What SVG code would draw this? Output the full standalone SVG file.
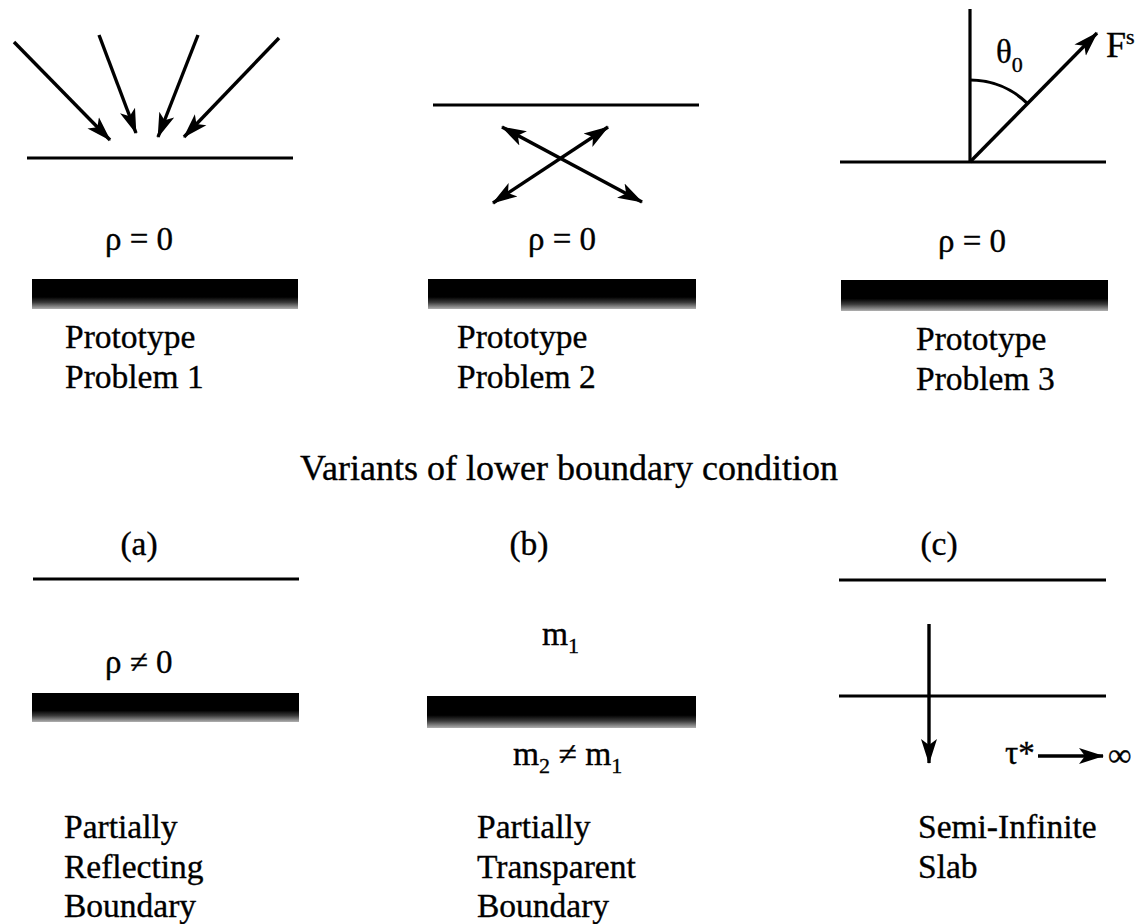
<svg xmlns="http://www.w3.org/2000/svg" width="1142" height="924" viewBox="0 0 1142 924">
<style>
  .t { font-family: "Liberation Serif", "Times New Roman", serif; font-size: 33.5px; fill: #000; stroke: #000; stroke-width: 0.35; }
  .big { font-size: 36px; }
  .sym { font-family: "Liberation Serif", "Times New Roman", serif; font-size: 33px; fill: #000; stroke: #000; stroke-width: 0.35; }
  .sub { font-size: 22px; }
  .ln { stroke: #000; stroke-width: 3.2; fill: none; }
  .ar { stroke: #000; stroke-width: 3.4; fill: none; marker-end: url(#ah); }
  .ar2 { stroke: #000; stroke-width: 3.4; fill: none; marker-end: url(#ah); marker-start: url(#ahs); }
  .bar { fill: url(#barg); }
</style>
<defs>
  <marker id="ah" markerUnits="userSpaceOnUse" markerWidth="26" markerHeight="18" refX="24" refY="9" orient="auto">
    <path d="M0,1 L25,9 L0,17 L6,9 Z" fill="#000"/>
  </marker>
  <marker id="ahs" markerUnits="userSpaceOnUse" markerWidth="26" markerHeight="18" refX="24" refY="9" orient="auto-start-reverse">
    <path d="M0,1 L25,9 L0,17 L6,9 Z" fill="#000"/>
  </marker>
  <linearGradient id="barg" x1="0" y1="0" x2="0" y2="1">
    <stop offset="0" stop-color="#000"/>
    <stop offset="0.6" stop-color="#000"/>
    <stop offset="0.78" stop-color="#3a3a3a"/>
    <stop offset="1" stop-color="#b0b0b0"/>
  </linearGradient>
</defs>

<!-- Prototype Problem 1 -->
<g id="p1">
  <line class="ln" x1="27" y1="158" x2="293" y2="158"/>
  <text class="sym" x="105" y="250">ρ = 0</text>
  <rect class="bar" x="32" y="279" width="266" height="30"/>
  <text class="t" x="65" y="348">Prototype</text>
  <text class="t" x="65" y="388">Problem 1</text>
</g>

<!-- Prototype Problem 2 -->
<g id="p2">
  <line class="ln" x1="433" y1="105" x2="699" y2="105"/>
  <text class="sym" x="528" y="250">ρ = 0</text>
  <rect class="bar" x="428" y="279" width="268" height="30"/>
  <text class="t" x="457" y="348">Prototype</text>
  <text class="t" x="457" y="388">Problem 2</text>
</g>

<!-- Prototype Problem 3 -->
<g id="p3">
  <line class="ln" x1="840" y1="162" x2="1106" y2="162"/>
  <line class="ln" x1="970" y1="9" x2="970" y2="162"/>
  <path class="ln" d="M970,80 A82,82 0 0 1 1027.6,103.6" stroke-width="2.6"/>
  <text class="sym" x="996" y="63" font-size="34">θ<tspan class="sub" font-size="26" dy="9">0</tspan></text>
  <text class="t big" x="1106" y="57">F<tspan font-size="22" dy="-13">s</tspan></text>
  <text class="sym" x="938" y="252">ρ = 0</text>
  <rect class="bar" x="841" y="280" width="267" height="31"/>
  <text class="t" x="916" y="350">Prototype</text>
  <text class="t" x="916" y="390">Problem 3</text>
</g>

<g id="title">
  <text class="t big" x="569" y="480" text-anchor="middle">Variants of lower boundary condition</text>
</g>

<!-- Variant (a) -->
<g id="va">
  <text class="t" x="139" y="555" text-anchor="middle">(a)</text>
  <line class="ln" x1="33" y1="579" x2="299" y2="579"/>
  <text class="sym" x="105" y="673">ρ ≠ 0</text>
  <rect class="bar" x="32" y="693" width="267" height="29"/>
  <text class="t" x="64" y="838">Partially</text>
  <text class="t" x="64" y="878">Reflecting</text>
  <text class="t" x="64" y="917">Boundary</text>
</g>

<!-- Variant (b) -->
<g id="vb">
  <text class="t" x="529" y="555" text-anchor="middle">(b)</text>
  <text class="t" x="542" y="645">m<tspan class="sub" dy="8">1</tspan></text>
  <rect class="bar" x="427" y="696" width="269" height="32"/>
  <text class="t" x="513" y="765">m<tspan class="sub" dy="8">2</tspan><tspan dy="-8"> ≠ m</tspan><tspan class="sub" dy="8">1</tspan></text>
  <text class="t" x="477" y="838">Partially</text>
  <text class="t" x="477" y="878">Transparent</text>
  <text class="t" x="477" y="917">Boundary</text>
</g>

<!-- Variant (c) -->
<g id="vc">
  <text class="t" x="939" y="555" text-anchor="middle">(c)</text>
  <line class="ln" x1="839" y1="580" x2="1106" y2="580"/>
  <line class="ln" x1="839" y1="696" x2="1106" y2="696"/>
  <text class="sym" x="1005" y="764" font-size="36">τ*</text>
  <text class="sym" x="1108" y="766" font-size="38">∞</text>
  <text class="t" x="918" y="838">Semi-Infinite</text>
  <text class="t" x="918" y="878">Slab</text>
</g>

<!-- Connectors / arrows -->
<g id="connectors">
  <line class="ar" x1="14" y1="42" x2="110" y2="140"/>
  <line class="ar" x1="99" y1="35" x2="136" y2="133"/>
  <line class="ar" x1="198" y1="35" x2="158" y2="137"/>
  <line class="ar" x1="279" y1="38" x2="184" y2="137"/>
  <line class="ar2" x1="502" y1="127" x2="642" y2="202"/>
  <line class="ar2" x1="608" y1="127" x2="493" y2="203"/>
  <line class="ar" x1="970" y1="162" x2="1097" y2="33"/>
  <line class="ar" x1="929" y1="624" x2="929" y2="763"/>
  <line class="ar" x1="1038" y1="756" x2="1103" y2="756" stroke-width="2.6"/>
</g>
</svg>
